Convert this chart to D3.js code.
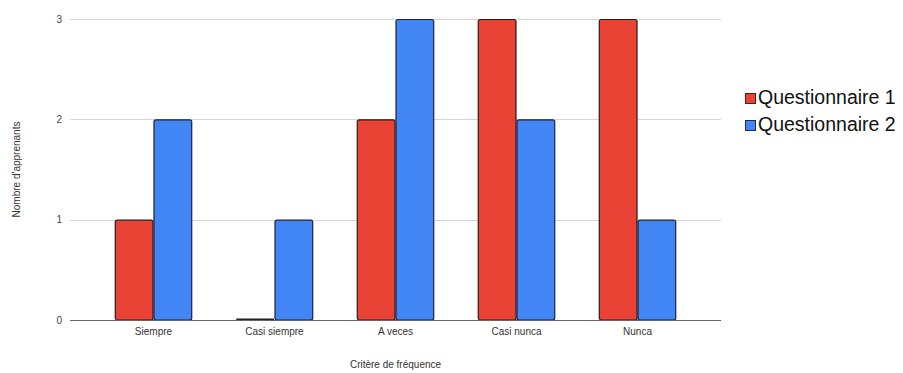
<!DOCTYPE html>
<html>
<head>
<meta charset="utf-8">
<script src="https://cdn.jsdelivr.net/npm/d3@7"></script>
<style>
  html, body { margin: 0; padding: 0; background: #fff; }
  svg { display: block; font-family: Arial, "Liberation Sans", sans-serif; }
</style>
</head>
<body>
<svg id="chart" width="903" height="373"></svg>
<script>
// Answer frequency per criterion, for the two questionnaires
const categories = ["Siempre", "Casi siempre", "A veces", "Casi nunca", "Nunca"];
const seriesNames = ["Questionnaire 1", "Questionnaire 2"];
const questionnaire1 = [1, 0, 2, 3, 3];
const questionnaire2 = [2, 1, 3, 2, 1];
const yTicks = [0, 1, 2, 3];
const colors = ["#e94335", "#4285f4"];
const strokes = ["#2a1a1a", "#1a2040"];

const svg = d3.select("#chart");
const plot = { left: 70, right: 721, top: 19, bottom: 320 };

const x0 = d3.scaleBand()
  .domain(categories)
  .range([plot.left, plot.right])
  .paddingInner(0.36)
  .paddingOuter(0.37);

const x1 = d3.scaleBand()
  .domain(seriesNames)
  .range([0, x0.bandwidth()])
  .padding(0);

const y = d3.scaleLinear()
  .domain([0, 3])
  .range([plot.bottom, plot.top]);

// Horizontal gridlines
svg.append("g")
  .selectAll("line")
  .data(yTicks.filter(d => d > 0))
  .join("line")
  .attr("x1", plot.left)
  .attr("x2", plot.right)
  .attr("y1", d => Math.round(y(d)) + 0.5)
  .attr("y2", d => Math.round(y(d)) + 0.5)
  .attr("stroke", "#d6d6d6")
  .attr("stroke-width", 1);

// Y tick labels
svg.append("g")
  .selectAll("text")
  .data(yTicks)
  .join("text")
  .attr("x", plot.left - 8)
  .attr("y", d => y(d) + 3.5)
  .attr("text-anchor", "end")
  .attr("font-size", 10)
  .attr("fill", "#444")
  .text(d => d);

// Bars
const rows = categories.map((c, i) => ({
  category: c,
  values: [questionnaire1[i], questionnaire2[i]]
}));

const groups = svg.append("g")
  .selectAll("g")
  .data(rows)
  .join("g")
  .attr("transform", d => `translate(${x0(d.category)},0)`);

groups.selectAll("rect")
  .data(d => d.values.map((v, k) => ({ name: seriesNames[k], value: v, k })))
  .join("rect")
  .attr("x", d => x1(d.name) + 0.5)
  .attr("width", x1.bandwidth() - 1)
  .attr("y", d => d.value > 0 ? y(d.value) + 0.5 : plot.bottom - 1.5)
  .attr("height", d => d.value > 0 ? y(0) - y(d.value) - 0.5 : 1.5)
  .attr("rx", d => d.value > 0 ? 2 : 0)
  .attr("fill", d => d.value > 0 ? colors[d.k] : "#222")
  .attr("stroke", d => d.value > 0 ? strokes[d.k] : "none")
  .attr("stroke-width", 1.2);

// Baseline
svg.append("line")
  .attr("x1", plot.left)
  .attr("x2", plot.right)
  .attr("y1", plot.bottom + 0.5)
  .attr("y2", plot.bottom + 0.5)
  .attr("stroke", "#666")
  .attr("stroke-width", 1.2);

// X category labels
svg.append("g")
  .selectAll("text")
  .data(categories)
  .join("text")
  .attr("x", d => x0(d) + x0.bandwidth() / 2)
  .attr("y", 335)
  .attr("text-anchor", "middle")
  .attr("font-size", 10)
  .attr("fill", "#333")
  .text(d => d);

// Axis titles
svg.append("text")
  .attr("x", (plot.left + plot.right) / 2)
  .attr("y", 368)
  .attr("text-anchor", "middle")
  .attr("font-size", 10)
  .attr("fill", "#333")
  .text("Critère de fréquence");

svg.append("text")
  .attr("transform", `translate(20,${(plot.top + plot.bottom) / 2}) rotate(-90)`)
  .attr("text-anchor", "middle")
  .attr("font-size", 10)
  .attr("fill", "#333")
  .text("Nombre d'apprenants");

// Legend
const legend = svg.append("g")
  .selectAll("g")
  .data(seriesNames)
  .join("g")
  .attr("transform", (d, i) => `translate(745,${93 + i * 27})`);

legend.append("rect")
  .attr("x", 0.5)
  .attr("y", 0.5)
  .attr("width", 10)
  .attr("height", 10)
  .attr("fill", (d, i) => colors[i])
  .attr("stroke", (d, i) => i === 0 ? "#5a1a14" : "#1a2a5a")
  .attr("stroke-width", 1);

legend.append("text")
  .attr("x", 13)
  .attr("y", 11)
  .attr("font-size", 19.5)
  .attr("fill", "#111")
  .text(d => d);
</script>
</body>
</html>
